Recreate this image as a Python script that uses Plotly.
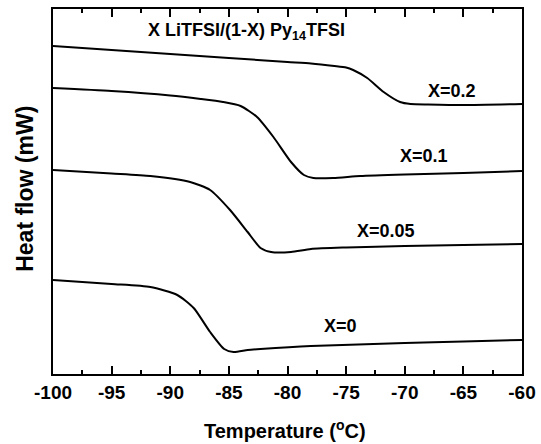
import plotly.graph_objects as go

# Temperature (°C) and heat flow (arbitrary units, curves stacked)
t_x02 = [-100, -95, -90, -85, -80, -78, -76, -75, -74.4, -73.2, -71.8, -70.4, -69.5, -68, -65, -60]
h_x02 = [328, 324, 320, 316, 312, 310.5, 308, 306.5, 304, 296, 282, 272, 270, 269.5, 269, 270]

t_x01 = [-100, -95, -90, -87.4, -85.5, -84, -82.6, -81.2, -79.7, -78.6, -77.8, -76.1, -73.8, -70, -65, -60]
h_x01 = [286, 283, 278.5, 275, 272, 268, 257, 237, 212, 199, 196, 196, 198, 199.5, 201, 203]

t_x005 = [-100, -95, -91.7, -88.3, -86.6, -84.9, -83.4, -82.3, -81.4, -79.7, -78, -75, -70, -65, -60]
h_x005 = [204, 200.5, 198, 192, 184, 164, 142, 126, 122, 122, 125, 126.5, 128, 129, 130]

t_x0 = [-100, -95, -91.7, -89.4, -88, -86.6, -85.4, -84.6, -83.4, -82.3, -78, -70, -65, -60]
h_x0 = [94, 90, 87, 79, 66, 42, 25, 22, 24, 25, 28, 31, 32.5, 34]

series = [
    ("X=0.2", t_x02, h_x02),
    ("X=0.1", t_x01, h_x01),
    ("X=0.05", t_x005, h_x005),
    ("X=0", t_x0, h_x0),
]

# label anchor points (temperature, heat flow)
label_names = ["X=0.2", "X=0.1", "X=0.05", "X=0"]
label_t = [-66.0, -68.4, -71.6, -75.5]
label_h = [283, 218, 143, 48.5]

x_ticks = [-100, -95, -90, -85, -80, -75, -70, -65, -60]

FONT = "Liberation Sans"

fig = go.Figure()
for name, t, h in series:
    fig.add_trace(go.Scatter(x=t, y=h, mode="lines", name=name,
                             line=dict(color="black", width=2, shape="spline", smoothing=0.6)))

for n, t, h in zip(label_names, label_t, label_h):
    fig.add_annotation(x=t, y=h, text="<b>" + n + "</b>", showarrow=False,
                       font=dict(size=18, color="black", family=FONT))

fig.add_annotation(x=-83.5, y=343, text="<b>X LiTFSI/(1-X) Py<sub>14</sub>TFSI</b>", showarrow=False,
                   font=dict(size=18, color="black", family=FONT))

# axis titles
fig.add_annotation(xref="paper", yref="paper", x=0.494, y=-0.153, yanchor="middle",
                   text="<b>Temperature (<sup>o</sup>C)</b>", showarrow=False,
                   font=dict(size=20, color="black", family=FONT))
fig.add_annotation(xref="paper", yref="paper", x=-0.06, y=0.507, xanchor="center", yanchor="middle",
                   text="<b>Heat flow (mW)</b>", showarrow=False, textangle=-90,
                   font=dict(size=23, color="black", family=FONT))

fig.update_layout(
    width=541, height=444,
    margin=dict(l=53, r=19, t=9, b=70, autoexpand=False),
    paper_bgcolor="white", plot_bgcolor="white",
    showlegend=False,
    font=dict(family=FONT, color="black"),
)
fig.update_xaxes(
    range=[-100, -60], tickvals=x_ticks, ticktext=["<b>%d</b>" % v for v in x_ticks],
    ticks="inside", ticklen=8, tickwidth=1.5, tickcolor="black",
    minor=dict(dtick=2.5, ticks="inside", ticklen=4, tickwidth=1.5, tickcolor="black"),
    showline=True, linecolor="black", linewidth=2, mirror="allticks",
    showgrid=False, zeroline=False, automargin=False,
    tickfont=dict(size=19, family=FONT, color="black"),
)
fig.update_yaxes(
    range=[0, 365], showticklabels=False, ticks="",
    showline=True, linecolor="black", linewidth=2, mirror=True,
    showgrid=False, zeroline=False, automargin=False,
)

fig.write_html("out.html", config={"displayModeBar": False},
               post_script="document.body.style.margin='0';document.body.style.overflow='hidden';")
